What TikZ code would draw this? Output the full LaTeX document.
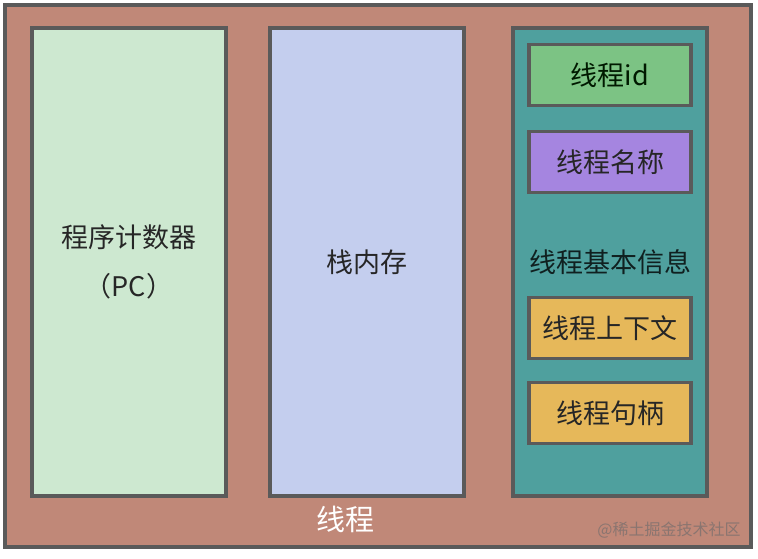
\documentclass[tikz,border=0pt]{standalone}
\usepackage{fontspec}
\newfontfamily\cjk{Noto Sans CJK SC}
\usepackage{tikz}
\usetikzlibrary{positioning}
\definecolor{threadbg}{HTML}{C08878}
\definecolor{edgegray}{HTML}{5A5A5A}
\definecolor{pcgreen}{HTML}{CDE8D0}
\definecolor{stackblue}{HTML}{C4CEEE}
\definecolor{infoteal}{HTML}{4FA09E}
\definecolor{idgreen}{HTML}{7CC384}
\definecolor{namepurple}{HTML}{A585E0}
\definecolor{ctxorange}{HTML}{E6B85A}
\definecolor{markgray}{HTML}{8A7570}

\begin{document}
\begin{tikzpicture}[x=0.5pt, y=-0.5pt,
    every node/.style={font=\cjk\fontsize{13.5}{16}\selectfont, text=black!85},
    bigbox/.style={draw=edgegray, line width=1.6pt, minimum width=97pt, minimum height=234pt, inner sep=0pt},
    infobox/.style={draw=edgegray, line width=1.6pt, minimum width=81pt, minimum height=30.5pt, inner sep=0pt}]
    \useasboundingbox (0,0) rectangle (758,558);
    \fill[white] (0,0) rectangle (758,558);
    % outer thread frame
    \node[draw=edgegray, line width=1.8pt, fill=threadbg, minimum width=373pt, minimum height=271pt, inner sep=0pt] (thread) at (378,276) {};
    % three columns
    \node[bigbox, fill=pcgreen, align=center, font=\cjk\fontsize{13.5}{24.5}\selectfont] (pc) at (129,262) {程序计数器\\（PC）};
    \node[bigbox, fill=stackblue] (stack) at (367,262) {栈内存};
    \node[bigbox, fill=infoteal, text=black!80!infoteal] (info) at (610,262) {线程基本信息};
    % thread info entries
    \node[infobox, fill=idgreen, text=black!75!green!40!black] (tid) at (610,75) {线程id};
    \node[infobox, fill=namepurple] (tname) at (610,162) {线程名称};
    \node[infobox, fill=ctxorange] (tctx) at (610,328) {线程上下文};
    \node[infobox, fill=ctxorange] (thandle) at (610,413) {线程句柄};
    % labels
    \node[text=white, font=\cjk\fontsize{14.5}{16}\selectfont] (threadlbl) at (345,519) {线程};
    \node[text=markgray, font=\cjk\fontsize{8}{10}\selectfont] (mark) at (669,530) {@稀土掘金技术社区};
\end{tikzpicture}
\end{document}
